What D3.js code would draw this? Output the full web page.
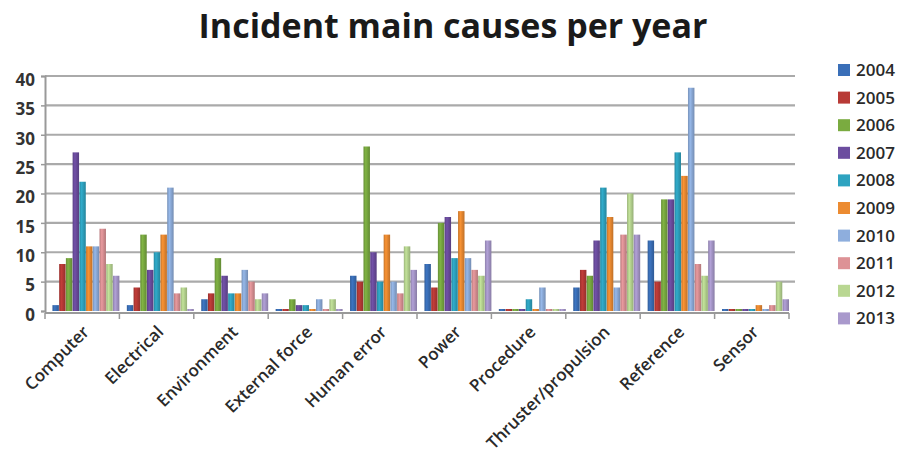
<!DOCTYPE html>
<html>
<head>
<meta charset="utf-8">
<script src="https://cdn.jsdelivr.net/npm/d3@7"></script>
<style>
  body { margin: 0; background: #fff; }
  text { font-family: "Open Sans", "Lato", sans-serif; }
</style>
</head>
<body>
<svg id="chart" width="907" height="460"></svg>
<script>
// categories and years
var causes = ["Computer", "Electrical", "Environment", "External force", "Human error",
              "Power", "Procedure", "Thruster/propulsion", "Reference", "Sensor"];
var years = ["2004", "2005", "2006", "2007", "2008", "2009", "2010", "2011", "2012", "2013"];

// counts per year, one value per cause (same order as causes)
var y2004 = [1, 1, 2, 0, 6, 8, 0, 4, 12, 0];
var y2005 = [8, 4, 3, 0, 5, 4, 0, 7, 5, 0];
var y2006 = [9, 13, 9, 2, 28, 15, 0, 6, 19, 0];
var y2007 = [27, 7, 6, 1, 10, 16, 0, 12, 19, 0];
var y2008 = [22, 10, 3, 1, 5, 9, 2, 21, 27, 0];
var y2009 = [11, 13, 3, 0, 13, 17, 0, 16, 23, 1];
var y2010 = [11, 21, 7, 2, 5, 9, 4, 4, 38, 0];
var y2011 = [14, 3, 5, 0, 3, 7, 0, 13, 8, 1];
var y2012 = [8, 4, 2, 2, 11, 6, 0, 20, 6, 5];
var y2013 = [6, 0, 3, 0, 7, 12, 0, 13, 12, 2];

var yTicks = [0, 5, 10, 15, 20, 25, 30, 35, 40];

var colors = ["#3a6fb8", "#b83a36", "#7aab40", "#6c4d9f", "#2ea3c0",
              "#ec8b31", "#8eaedd", "#dd9296", "#b9d792", "#a999cc"];

var series = [y2004, y2005, y2006, y2007, y2008, y2009, y2010, y2011, y2012, y2013];

var svg = d3.select("#chart");

// shaded gradients to hint at the 3d columns
var defs = svg.append("defs");
colors.forEach(function(c, i){
    var g = defs.append("linearGradient").attr("id", "grad"+i)
        .attr("x1", "0").attr("x2", "1").attr("y1", "0").attr("y2", "0");
    g.append("stop").attr("offset", "0").attr("stop-color", d3.color(c).darker(0.5));
    g.append("stop").attr("offset", "0.35").attr("stop-color", d3.color(c).brighter(0.15));
    g.append("stop").attr("offset", "1").attr("stop-color", d3.color(c).darker(0.6));
});

var plotLeft = 45, plotRight = 789, plotTop = 76, plotBottom = 311;

var x0 = d3.scaleBand().domain(causes).range([plotLeft, plotRight]).paddingInner(0).paddingOuter(0);
var bw = x0.bandwidth();
var x1 = d3.scaleBand().domain(years).range([bw*0.1, bw]).paddingInner(0.04);
var y = d3.scaleLinear().domain([0, 40]).range([plotBottom, plotTop]);

// title
svg.append("text")
    .attr("x", 453).attr("y", 38)
    .attr("text-anchor", "middle")
    .attr("font-size", 34).attr("font-weight", "bold").attr("fill", "#1a1a1a")
    .text("Incident main causes per year");

// gridlines
svg.append("g").selectAll("line").data(yTicks.slice(1)).enter().append("line")
    .attr("x1", plotLeft).attr("x2", plotRight + 6)
    .attr("y1", function(d){ return y(d); }).attr("y2", function(d){ return y(d); })
    .attr("stroke", "#aaa").attr("stroke-width", 2.2);

// y axis
var yAxis = svg.append("g").attr("transform", "translate(" + plotLeft + ",0)")
    .call(d3.axisLeft(y).tickValues(yTicks).tickSize(4).tickPadding(6));
yAxis.select(".domain").attr("stroke", "#999").attr("stroke-width", 2);
yAxis.selectAll(".tick line").attr("stroke", "#999").attr("stroke-width", 1.5);
yAxis.selectAll(".tick text")
    .attr("font-size", 17).attr("font-weight", "bold").attr("fill", "#333")
    .attr("font-family", "Open Sans, sans-serif").attr("dy", "0.55em");

// floor line and ticks at the category boundaries
svg.append("line")
    .attr("x1", plotLeft).attr("x2", plotRight)
    .attr("y1", plotBottom + 2).attr("y2", plotBottom + 2)
    .attr("stroke", "#999").attr("stroke-width", 2);
var bounds = causes.map(function(c){ return x0(c); }).concat([plotRight]);
svg.append("g").selectAll("line").data(bounds).enter().append("line")
    .attr("x1", function(d){ return d; }).attr("x2", function(d){ return d; })
    .attr("y1", plotBottom + 2).attr("y2", plotBottom + 8)
    .attr("stroke", "#999").attr("stroke-width", 1.5);

// bars
var groups = svg.append("g").selectAll("g").data(causes).enter().append("g")
    .attr("transform", function(c){ return "translate(" + x0(c) + ",0)"; });

groups.selectAll("rect")
    .data(function(c, ci){
        return series.map(function(s, si){ return {year: years[si], value: s[ci], si: si}; });
    })
    .enter().append("rect")
    .attr("x", function(d){ return x1(d.year); })
    .attr("width", x1.bandwidth())
    .attr("y", function(d){ return Math.min(y(d.value), plotBottom - 2); })
    .attr("height", function(d){ return Math.max(plotBottom - y(d.value), 2); })
    .attr("fill", function(d){ return "url(#grad" + d.si + ")"; });

// category labels, rotated
svg.append("g").selectAll("text").data(causes).enter().append("text")
    .attr("transform", function(c){
        return "translate(" + (x0(c) + bw/2 + 8) + "," + (plotBottom + 22) + ") rotate(-45)";
    })
    .attr("text-anchor", "end")
    .attr("font-size", 17).attr("font-weight", 600).attr("fill", "#2a2a2a")
    .text(function(c){ return c; });

// legend
var legend = svg.append("g").selectAll("g").data(years).enter().append("g")
    .attr("transform", function(d, i){ return "translate(838," + (70 + i*27.6) + ")"; });
legend.append("rect")
    .attr("x", 0).attr("y", -6).attr("width", 12).attr("height", 12)
    .attr("fill", function(d, i){ return colors[i]; });
legend.append("text")
    .attr("x", 18).attr("y", 6)
    .attr("font-size", 17).attr("font-weight", 600).attr("fill", "#2a2a2a")
    .text(function(d){ return d; });
</script>
</body>
</html>
